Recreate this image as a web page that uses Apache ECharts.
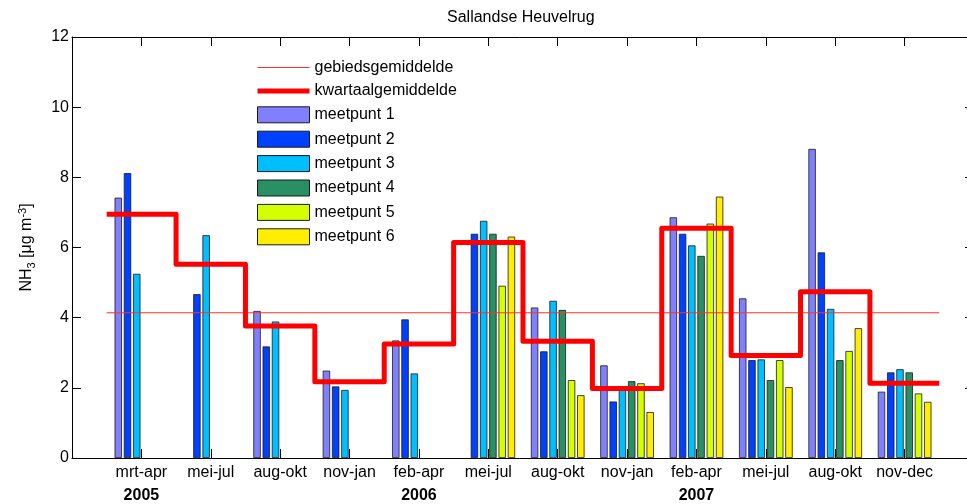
<!DOCTYPE html>
<html>
<head>
<meta charset="utf-8">
<script src="https://cdn.jsdelivr.net/npm/echarts@6/dist/echarts.min.js"></script>
<style>html,body{margin:0;padding:0;background:#fff}#c{width:967px;height:504px}</style>
</head>
<body>
<div id="c"></div>
<script>
const categories = ['mrt-apr','mei-jul','aug-okt','nov-jan','feb-apr','mei-jul','aug-okt','nov-jan','feb-apr','mei-jul','aug-okt','nov-dec'];
const years = ['2005','','','','2006','','','','2007','','',''];
const yTicks = [0, 2, 4, 6, 8, 10, 12];
const seriesNames = ['meetpunt 1','meetpunt 2','meetpunt 3','meetpunt 4','meetpunt 5','meetpunt 6'];
const meetpunt1 = [7.42, null, 4.19, 2.49, 3.35, null, 4.29, 2.64, 6.86, 4.55, 8.81, 1.89];
const meetpunt2 = [8.12, 4.67, 3.18, 2.04, 3.95, 6.39, 3.04, 1.61, 6.39, 2.79, 5.86, 2.44];
const meetpunt3 = [5.25, 6.35, 3.89, 1.94, 2.41, 6.76, 4.48, 2.00, 6.06, 2.81, 4.25, 2.53];
const meetpunt4 = [null, null, null, null, null, 6.39, 4.22, 2.19, 5.76, 2.22, 2.79, 2.44];
const meetpunt5 = [null, null, null, null, null, 4.91, 2.22, 2.13, 6.68, 2.79, 3.05, 1.84];
const meetpunt6 = [null, null, null, null, null, 6.31, 1.79, 1.31, 7.45, 2.02, 3.70, 1.60];
const kwartaalgemiddelde = [6.95, 5.52, 3.76, 2.17, 3.25, 6.14, 3.33, 1.98, 6.55, 2.92, 4.74, 2.13];
const gebiedsgemiddelde = 4.14;

const colors = ['#8080ff', '#0040ff', '#00bfff', '#289062', '#d4ff00', '#ffee00'];
const FONT = 'Liberation Sans, Arial, Helvetica, sans-serif';
const allBars = [meetpunt1, meetpunt2, meetpunt3, meetpunt4, meetpunt5, meetpunt6];

const barSeries = allBars.map((vals, k) => ({
  type: 'bar',
  name: seriesNames[k],
  xAxisIndex: 0, yAxisIndex: 0,
  barWidth: 7.4,
  barGap: '25%',
  itemStyle: { color: colors[k], borderColor: '#1a1a1a', borderWidth: 0.8 },
  data: vals.map((v, i) => [i + 1, v]).filter(d => d[1] !== null),
  z: 2
}));

const stepData = [];
kwartaalgemiddelde.forEach((v, i) => { stepData.push([i + 0.5, v]); stepData.push([i + 1.5, v]); });

const gebiedData = [[0.5, gebiedsgemiddelde], [categories.length + 0.5, gebiedsgemiddelde]];

const chart = echarts.init(document.getElementById('c'), null, { renderer: 'canvas' });
const axisLineStyle = { color: '#000', width: 1 };
chart.setOption({
  animation: false,
  backgroundColor: '#fff',
  textStyle: { fontFamily: FONT },
  title: {
    text: 'Sallandse Heuvelrug',
    left: 447, top: 10, padding: 0,
    textStyle: { fontSize: 16, fontWeight: 'normal', color: '#000', fontFamily: FONT }
  },
  grid: { left: 72, top: 37, width: 902, height: 421, containLabel: false, outerBoundsMode: 'none' },
  legend: {
    orient: 'vertical', left: 257, top: 59.5, padding: 0,
    itemWidth: 52, itemHeight: 16, itemGap: 7.4, itemTextGap: 5,
    selectedMode: false,
    textStyle: { fontSize: 16, color: '#000', fontFamily: FONT },
    data: [
      { name: 'gebiedsgemiddelde', icon: 'path://M0,0 H52 V1 H0 Z', itemStyle: { color: '#ff3030', borderWidth: 0 } },
      { name: 'kwartaalgemiddelde', icon: 'path://M0,0 H52 V5 H0 Z', itemStyle: { color: '#ff0000', borderWidth: 0 } }
    ].concat(seriesNames.map((n, k) => ({ name: n, icon: 'rect', itemStyle: { color: colors[k], borderColor: '#1a1a1a', borderWidth: 1 } })))
  },
  xAxis: [
    {
      type: 'value', min: 0, max: categories.length + 1, interval: 1, position: 'bottom',
      axisLine: { show: true, onZero: false, lineStyle: axisLineStyle },
      axisTick: { show: true, inside: true, length: 9, lineStyle: axisLineStyle },
      splitLine: { show: false },
      axisLabel: {
        fontSize: 16, color: '#000', margin: 3, lineHeight: 23, fontFamily: FONT,
        showMinLabel: true, showMaxLabel: true,
        formatter: function (val) {
          const i = Math.round(val) - 1;
          if (i < 0 || i >= categories.length) return '';
          return years[i] ? categories[i] + '\n{y|' + years[i] + '}' : categories[i];
        },
        rich: { y: { fontSize: 16, fontWeight: 'bold', lineHeight: 23, color: '#000', fontFamily: FONT } }
      }
    },
    {
      type: 'value', min: 0, max: categories.length + 1, interval: 1, position: 'top',
      axisLine: { show: true, onZero: false, lineStyle: axisLineStyle },
      axisTick: { show: true, inside: true, length: 9, lineStyle: axisLineStyle },
      splitLine: { show: false },
      axisLabel: { show: false }
    }
  ],
  yAxis: [
    {
      type: 'value', min: yTicks[0], max: yTicks[yTicks.length - 1], interval: yTicks[1] - yTicks[0], position: 'left',
      axisLine: { show: true, onZero: false, lineStyle: axisLineStyle },
      axisTick: { show: true, inside: true, length: 9, lineStyle: axisLineStyle },
      splitLine: { show: false },
      axisLabel: { fontSize: 16, color: '#000', margin: 3, fontFamily: FONT },
      name: 'NH{sub|3} [μg m{sup|-3}]',
      nameLocation: 'middle', nameRotate: 90, nameGap: 35,
      nameTextStyle: {
        fontSize: 16, color: '#000', fontFamily: FONT,
        rich: {
          sub: { fontSize: 11, padding: [9, 0, 0, 0], color: '#000', fontFamily: FONT },
          sup: { fontSize: 11, padding: [0, 0, 9, 0], color: '#000', fontFamily: FONT }
        }
      }
    },
    {
      type: 'value', min: yTicks[0], max: yTicks[yTicks.length - 1], interval: yTicks[1] - yTicks[0], position: 'right',
      axisLine: { show: true, onZero: false, lineStyle: axisLineStyle },
      axisTick: { show: true, inside: true, length: 9, lineStyle: axisLineStyle },
      splitLine: { show: false },
      axisLabel: { show: false }
    }
  ],
  series: [
    {
      type: 'line', name: 'gebiedsgemiddelde', xAxisIndex: 0, yAxisIndex: 0,
      symbol: 'none', silent: true,
      lineStyle: { color: '#ff3030', width: 1 }, itemStyle: { color: '#ff3030' },
      data: gebiedData, z: 5
    },
    {
      type: 'line', name: 'kwartaalgemiddelde', xAxisIndex: 0, yAxisIndex: 0,
      symbol: 'none', silent: true,
      lineStyle: { color: '#ff0000', width: 5, join: 'round' }, itemStyle: { color: '#ff0000' },
      data: stepData, z: 6
    }
  ].concat(barSeries)
});
</script>
</body>
</html>
